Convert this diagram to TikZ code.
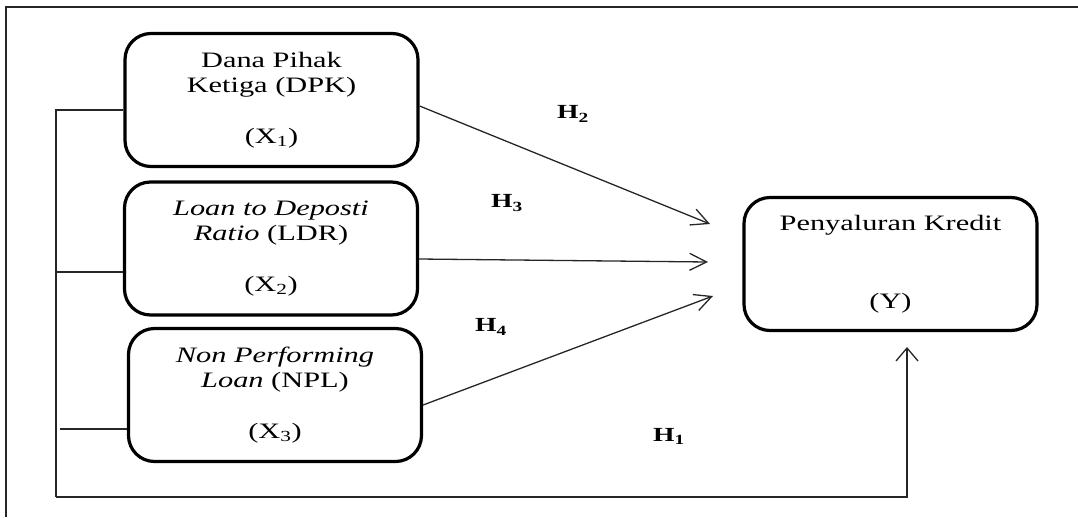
\documentclass[tikz,border=0pt]{standalone}
\usepackage{fontspec}
\setmainfont{Liberation Serif}[FakeStretch=1.38]
\usetikzlibrary{arrows.meta}
\tikzset{
  varbox/.style={draw=black, line width=3.2pt, rounded corners=26pt,
    minimum width=293pt, minimum height=133pt, align=center, inner sep=0pt,
    font=\fontsize{22}{25}\selectfont},
  conn/.style={draw=black!85, line width=1.3pt},
  arr/.style={conn, -{Straight Barb[length=17pt,width=17pt,line width=1.3pt]}},
  uparr/.style={conn, -{Straight Barb[length=13pt,width=22pt,line width=1.3pt]}},
  hyp/.style={font=\fontsize{20}{22}\selectfont\bfseries, inner sep=0pt},
  frame/.style={draw=black!85, line width=2pt}
}
\begin{document}
\begin{tikzpicture}[x=1pt,y=-1pt]
\useasboundingbox (0,0) rectangle (1078,517);
% frame
\coordinate (f1) at (6,517);
\coordinate (f2) at (6,7);
\coordinate (f3) at (1078,7);
\draw[frame] (f1) -- (f2) -- (f3);
% boxes
\node[varbox] (x1) at (271.5,100) {Dana Pihak\\Ketiga (DPK)\\[26pt](X\textsubscript{1})};
\node[varbox] (x2) at (271,248.5) {\textit{Loan to Deposti}\\\textit{Ratio} (LDR)\\[26pt](X\textsubscript{2})};
\node[varbox] (x3) at (275,395) {\textit{Non Performing}\\\textit{Loan} (NPL)\\[26pt](X\textsubscript{3})};
\node[varbox] (y) at (890.5,264) {Penyaluran Kredit\\[53pt](Y)};
% arrow end points
\coordinate (t2) at (710,224);
\coordinate (t3) at (708,262);
\coordinate (t4) at (713,296);
\draw[arr] ([yshift=-6pt]x1.east) -- (t2);
\draw[arr] ([yshift=-10.5pt]x2.east) -- (t3);
\draw[arr] ([yshift=-10pt]x3.east) -- (t4);
% left bus and H1
\coordinate (b1) at (56,110);
\coordinate (b2) at (56,272);
\coordinate (b3) at (60,429);
\coordinate (bb) at (56,497);
\coordinate (br) at (907,497);
\coordinate (t1) at (907,347);
\draw[conn] ([yshift=-10pt]x1.west) -- (b1) -- (bb);
\draw[conn] ([yshift=-23.5pt]x2.west) -- (b2);
\draw[conn] ([yshift=-34pt]x3.west) -- (b3);
\draw[uparr] (bb) -- (br) -- (t1);
% hypothesis labels
\node[hyp] (h2) at (573,114) {H\textsubscript{2}};
\node[hyp] (h3) at (507,203) {H\textsubscript{3}};
\node[hyp] (h4) at (491,327) {H\textsubscript{4}};
\node[hyp] (h1) at (669,436) {H\textsubscript{1}};
\end{tikzpicture}
\end{document}
